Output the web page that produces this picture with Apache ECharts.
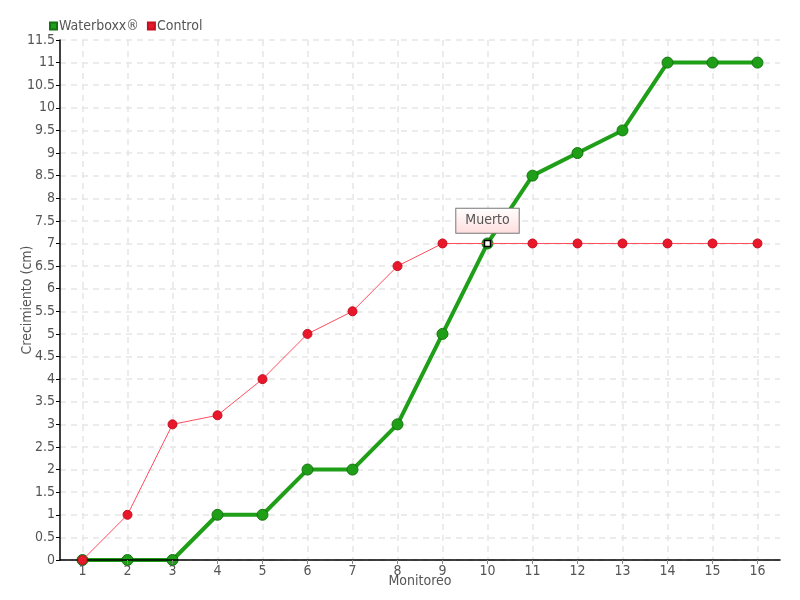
<!DOCTYPE html>
<html><head><meta charset="utf-8">
<script src="https://cdn.jsdelivr.net/npm/echarts@6/dist/echarts.min.js"></script>
<style>html,body{margin:0;padding:0;background:#fff}#c{width:800px;height:600px}</style>
</head><body><div id="c"></div>
<script>
const categories = ['1','2','3','4','5','6','7','8','9','10','11','12','13','14','15','16'];
const waterboxx = [0,0,0,1,1,2,2,3,5,7,8.5,9,9.5,11,11,11];
const control = [0,1,3,3.2,4,5,5.5,6.5,7,7,7,7,7,7,7,7];
const noteIndex = 9;
const noteText = 'Muerto';

const FONT = '"DejaVu Sans Condensed","Liberation Sans Narrow",sans-serif';
const chart = echarts.init(document.getElementById('c'));
const halfSteps = [];
for (let i = 0; i <= categories.length * 2; i++) halfSteps.push(String(i));
const controlData = control.map((v,i)=> i===noteIndex ? {
  value: v,
  symbol: 'rect', symbolSize: 6,
  itemStyle: {color:'#fff', borderColor:'#000', borderWidth:1.5},
  label: {
    show: true, position: 'top', distance: 7, formatter: noteText,
    fontFamily: FONT, fontSize: 14, color: '#555',
    padding: [5,9,5,9], borderColor: '#777', borderWidth: 1,
    backgroundColor: new echarts.graphic.LinearGradient(0,0,0,1,[{offset:0,color:'#fff'},{offset:1,color:'#fdd'}])
  }
} : v);
chart.setOption({
  animation: false,
  textStyle: {fontFamily: FONT},
  legend: {
    left: 44, top: 14, itemWidth: 7, itemHeight: 7, itemGap: 8,
    icon: 'rect',
    textStyle: {fontFamily: FONT, fontSize: 14, color: '#555', padding:[0,0,0,-3]},
    data: ['Waterboxx®','Control']
  },
  grid: {left: 60, right: 20, top: 40, bottom: 40, containLabel: false, outerBoundsMode: 'none'},
  xAxis: [{
    type: 'category', data: categories, boundaryGap: true,
    name: 'Monitoreo', nameLocation: 'middle', nameGap: 14, nameMoveOverlap: false,
    nameTextStyle: {fontFamily: FONT, fontSize: 14, color: '#555'},
    axisLine: {lineStyle: {color: '#000', width: 1.5}},
    axisTick: {show: true, alignWithLabel: true, length: 4, lineStyle:{color:'#888'}},
    axisLabel: {fontFamily: FONT, fontSize: 14, color: '#555', margin: 4},
    splitLine: {show: false},
    z: 3
  }, {
    type: 'category', data: halfSteps, boundaryGap: false, position: 'bottom',
    axisLine: {show: false}, axisTick: {show: false}, axisLabel: {show: false},
    splitLine: {show: true, interval: (idx) => idx % 2 === 1, lineStyle: {color: '#e6e6e6', type: [6,5], width: 1.5}}
  }],
  yAxis: {
    type: 'value', min: 0, max: 11.5, interval: 0.5,
    name: 'Crecimiento (cm)', nameLocation: 'middle', nameGap: 26, nameMoveOverlap: false,
    nameTextStyle: {fontFamily: FONT, fontSize: 14, color: '#555'},
    axisLine: {show: true, lineStyle: {color: '#000', width: 1.5}},
    axisTick: {show: true, length: 4, lineStyle:{color:'#000'}},
    axisLabel: {fontFamily: FONT, fontSize: 14, color: '#555', margin: 5},
    splitLine: {show: true, lineStyle: {color: '#e6e6e6', type: [6,5], width: 1.5}}
  },
  series: [
    {
      name: 'Waterboxx®', type: 'line', data: waterboxx, xAxisIndex: 0,
      symbol: 'circle', symbolSize: 11, z: 2,
      lineStyle: {color: '#1f9e17', width: 4},
      itemStyle: {color: '#1f9e17', borderColor: '#13740f', borderWidth: 1}
    },
    {
      name: 'Control', type: 'line', data: controlData, xAxisIndex: 0,
      symbol: 'circle', symbolSize: 9, z: 3,
      lineStyle: {color: '#ff4d5e', width: 1},
      itemStyle: {color: '#e8172a', borderColor: '#c41020', borderWidth: 1}
    }
  ]
});
</script></body></html>
